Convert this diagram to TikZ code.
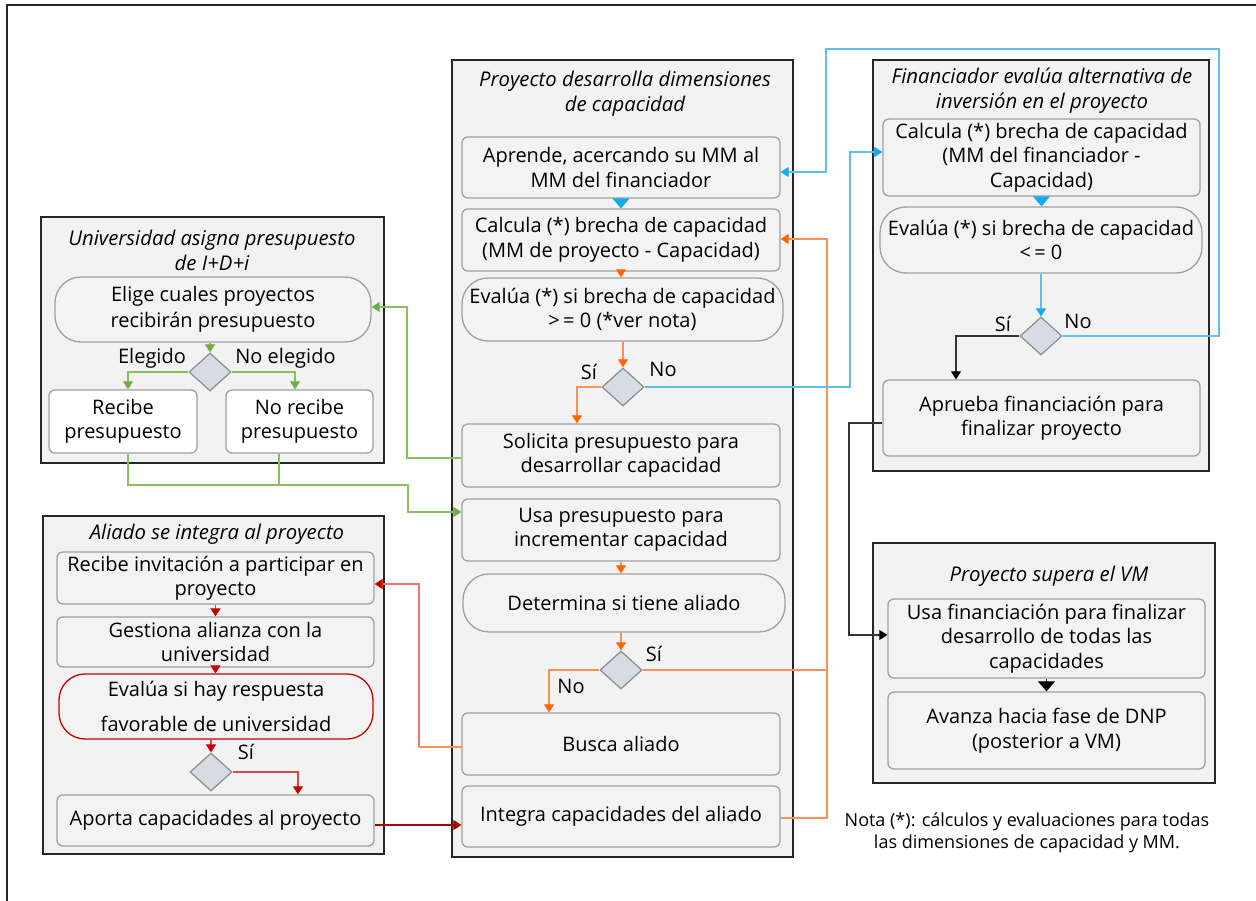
\documentclass[tikz,border=0pt]{standalone}
\usepackage{fontspec}
\setmainfont{Open Sans}
\usetikzlibrary{shapes.geometric,arrows.meta}

\definecolor{panelfill}{RGB}{242,242,242}
\definecolor{boxfill}{RGB}{243,243,243}
\definecolor{boxline}{RGB}{160,160,160}
\definecolor{decfill}{RGB}{214,220,228}
\definecolor{decline}{RGB}{140,140,140}
\definecolor{lineblue}{RGB}{95,190,240}
\definecolor{tipblue}{RGB}{20,170,235}
\definecolor{lineorange}{RGB}{247,145,85}
\definecolor{tiporange}{RGB}{255,102,0}
\definecolor{linegreen}{RGB}{135,192,95}
\definecolor{tipgreen}{RGB}{112,173,71}
\definecolor{linered}{RGB}{220,70,70}
\definecolor{tipred}{RGB}{200,0,0}
\definecolor{linepink}{RGB}{238,120,110}

\newcommand{\bodyfont}{\fontsize{20}{24.5}\selectfont}
\newcommand{\headfont}{\fontsize{20.3}{25}\selectfont\itshape}

\tikzset{
  panel/.style={draw=black!85, line width=1.4pt, fill=panelfill, inner sep=0pt},
  proc/.style={draw=boxline, line width=1.3pt, rounded corners=6pt, fill=boxfill,
    align=center, inner sep=0pt, font=\bodyfont},
  whiteproc/.style={proc, fill=white},
  term/.style={proc, rounded corners=26pt},
  dec/.style={diamond, draw=decline, line width=1.2pt, fill=decfill,
    minimum width=42pt, minimum height=38pt, inner sep=0pt},
  head/.style={font=\headfont, align=center, inner sep=0pt},
  lbl/.style={font=\bodyfont, inner sep=0pt},
  conn/.style={line width=1.1pt},
  smalltip/.style={-{Triangle[width=10pt,length=8pt,#1]}},
  bigtip/.style={-{Triangle[width=17pt,length=10pt,#1]}},
  blueln/.style={conn, draw=lineblue},
  orangeln/.style={conn, draw=lineorange},
  greenln/.style={conn, draw=linegreen},
  redln/.style={conn, draw=linered},
  blackln/.style={conn, draw=black!80},
}

\begin{document}
\begin{tikzpicture}[x=1pt,y=-1pt]
\useasboundingbox (0,0) rectangle (1256,901);
\fill[white] (0,0) rectangle (1256,901);

% outer frame (top and left edges)
\draw[line width=1.4pt, black!85] (7,901) -- (7,5) -- (1256,5);

% ---------- swimlane panels ----------
\node[panel, minimum width=343pt, minimum height=246pt] (pUni) at (212.5,340) {};
\node[panel, minimum width=341pt, minimum height=338pt] (pAli) at (213.5,685) {};
\node[panel, minimum width=341pt, minimum height=797pt] (pPro) at (622.5,458.5) {};
\node[panel, minimum width=336pt, minimum height=411pt] (pFin) at (1041,265.5) {};
\node[panel, minimum width=342pt, minimum height=240pt] (pVM)  at (1044,663) {};

\node[head] (hUni) at (212,250.5) {Universidad asigna presupuesto\\de I+D+i};
\node[head] (hAli) at (217,534) {Aliado se integra al proyecto};
\node[head] (hPro) at (625,93.5) {Proyecto desarrolla dimensiones\\de capacidad};
\node[head] (hFin) at (1042,90.5) {Financiador evalúa alternativa de\\inversión en el proyecto};
\node[head] (hVM)  at (1049,576) {Proyecto supera el VM};

% ---------- Universidad ----------
\node[term, minimum width=316pt, minimum height=65pt] (elige) at (213,309.5)
  {Elige cuales proyectos\\[1.5pt]recibirán presupuesto};
\node[dec] (dU) at (210,372) {};
\node[whiteproc, minimum width=148pt, minimum height=63pt] (recibe) at (123,421.5)
  {Recibe\\presupuesto};
\node[whiteproc, minimum width=147pt, minimum height=63pt] (norecibe) at (299.5,421.5)
  {No recibe\\presupuesto};
\node[lbl] (lElegido) at (152,358) {Elegido};
\node[lbl] (lNoElegido) at (285.5,358) {No elegido};

% ---------- Aliado ----------
\node[proc, minimum width=317pt, minimum height=52pt] (recinv) at (215.5,578)
  {Recibe invitación a participar en\\proyecto};
\node[proc, minimum width=317pt, minimum height=50pt] (gestiona) at (215.5,642)
  {Gestiona alianza con la\\universidad};
\node[term, draw=tipred, minimum width=314pt, minimum height=65pt] (evala) at (216,706.5)
  {Evalúa si hay respuesta\\[10.5pt]favorable de universidad};
\node[dec] (dA) at (211,772) {};
\node[lbl] (lSiA) at (246,752) {Sí};
\node[proc, minimum width=317pt, minimum height=51pt] (aporta) at (215.5,820.5)
  {Aporta capacidades al proyecto};

% ---------- Proyecto ----------
\node[proc, minimum width=318pt, minimum height=61pt] (aprende) at (621,167.5)
  {Aprende, acercando su MM al\\MM del financiador};
\node[proc, minimum width=318pt, minimum height=62pt] (calcp) at (621,240)
  {Calcula (*) brecha de capacidad\\(MM de proyecto - Capacidad)};
\node[term, minimum width=321pt, minimum height=63pt] (evalp) at (622.5,309.5)
  {Evalúa (*) si brecha de capacidad\\>\,= 0 (*ver nota)};
\node[dec] (dP1) at (623,387) {};
\node[lbl] (lSiP1) at (589,372) {Sí};
\node[lbl] (lNoP1) at (663,369) {No};
\node[proc, minimum width=318pt, minimum height=63pt] (solicita) at (621,455.5)
  {Solicita presupuesto para\\desarrollar capacidad};
\node[proc, minimum width=318pt, minimum height=62pt] (usap) at (621,530)
  {Usa presupuesto para\\incrementar capacidad};
\node[term, minimum width=322pt, minimum height=58pt] (determina) at (624,603)
  {Determina si tiene aliado};
\node[dec] (dP2) at (621,670) {};
\node[lbl] (lSiP2) at (654,654) {Sí};
\node[lbl] (lNoP2) at (571,686) {No};
\node[proc, minimum width=318pt, minimum height=62pt] (busca) at (621,744)
  {Busca aliado};
\node[proc, minimum width=318pt, minimum height=61pt] (integra) at (621,816.5)
  {Integra capacidades del aliado};

% ---------- Financiador ----------
\node[proc, minimum width=317pt, minimum height=77pt] (calcf) at (1041.5,157.5)
  {Calcula (*) brecha de capacidad\\(MM del financiador -\\Capacidad)};
\node[term, minimum width=322pt, minimum height=66pt] (evalf) at (1041,240)
  {Evalúa (*) si brecha de capacidad\\<\,= 0};
\node[dec] (dF) at (1041,336) {};
\node[lbl] (lSiF) at (1003,324) {Sí};
\node[lbl] (lNoF) at (1078,321) {No};
\node[proc, minimum width=317pt, minimum height=76pt] (aprueba) at (1041.5,418)
  {Aprueba financiación para\\finalizar proyecto};

% ---------- Proyecto supera el VM ----------
\node[proc, minimum width=317pt, minimum height=79pt] (usaf) at (1046.5,638.5)
  {Usa financiación para finalizar\\desarrollo de todas las\\capacidades};
\node[proc, minimum width=317pt, minimum height=77pt] (avanza) at (1046.5,730.5)
  {Avanza hacia fase de DNP\\(posterior a VM)};

\node[align=center, inner sep=0pt, font=\fontsize{18}{22}\selectfont] (nota) at (1027,833)
  {Nota (*): cálculos y evaluaciones para todas\\las dimensiones de capacidad y MM.};

% ---------- connectors: Universidad (green) ----------
\coordinate (gj) at (408,485);
\coordinate (gk) at (407,400);
\draw[greenln, smalltip=tipgreen] (elige.south -| dU.north) -- (dU.north);
\draw[greenln, smalltip=tipgreen] (dU.west) -| ([xshift=5pt]recibe.north);
\draw[greenln, smalltip=tipgreen] (dU.east) -| ([xshift=-4.5pt]norecibe.north);
\draw[greenln, smalltip=tipgreen] ([xshift=5pt]recibe.south) |- (gj) |- ([yshift=18pt]usap.west);
\draw[greenln] ([xshift=-20.5pt]norecibe.south) -- ([xshift=-20.5pt]norecibe.south |- gj);
\draw[greenln, smalltip=tipgreen] ([yshift=-2.5pt]solicita.west) -- ([yshift=-2.5pt]solicita.west -| gk) |- ([yshift=2.5pt]elige.east);

% ---------- connectors: Aliado (red) ----------
\coordinate (rk) at (419,700);
\draw[redln, smalltip=tipred] (recinv.south) -- (gestiona.north);
\draw[redln, smalltip=tipred] (gestiona.south) -- (gestiona.south |- evala.north);
\draw[redln, smalltip=tipred] (evala.south -| dA.north) -- (dA.north);
\draw[redln, smalltip=tipred] (dA.east) -| ([xshift=82.5pt]aporta.north);
\draw[conn, draw=tipred!85!black, smalltip=tipred!85!black] ([yshift=-4.5pt]aporta.east) -- ([yshift=-4.5pt]aporta.east -| integra.west);
\draw[orangeln] ([yshift=-3pt]busca.west) -- ([yshift=-3pt]busca.west -| rk) coordinate (rk2);
\draw[conn, draw=linepink, smalltip=tipred] (rk2) |- ([yshift=-6pt]recinv.east);

% ---------- connectors: Proyecto (orange) ----------
\coordinate (ok) at (827,500);
\draw[orangeln, smalltip=tiporange] (calcp.south) -- (evalp.north -| calcp.south);
\draw[orangeln, smalltip=tiporange] (evalp.south -| dP1.north) -- (dP1.north);
\draw[orangeln, smalltip=tiporange] (dP1.west) -| ([xshift=-44pt]solicita.north);
\draw[orangeln, smalltip=tiporange] (usap.south) -- (usap.south |- determina.north);
\draw[orangeln, smalltip=tiporange] (determina.south -| dP2.north) -- (dP2.north);
\draw[orangeln, smalltip=tiporange] (dP2.west) -| ([xshift=-72pt]busca.north);
\draw[orangeln] (dP2.east) -- (dP2.east -| ok);
\draw[orangeln, smalltip=tiporange] ([yshift=-1.5pt]integra.east) -| (ok) |- ([yshift=1pt]calcp.east);

% ---------- connectors: Financiador (blue) ----------
\coordinate (bk) at (850,300);
\coordinate (bt) at (1219,49);
\coordinate (bl) at (826,49);
\draw[blueln, bigtip=tipblue] (aprende.south) -- (calcp.north);
\draw[blueln, smalltip=tipblue] (dP1.east) -| (bk) |- ([yshift=5.5pt]calcf.west);
\draw[blueln, bigtip=tipblue] (calcf.south) -- (calcf.south |- evalf.north);
\draw[blueln, smalltip=tipblue] (evalf.south -| dF.north) -- (dF.north);
\draw[blueln, smalltip=tipblue] (dF.east) -| (bt) -- (bl) |- ([yshift=-4.5pt]aprende.east);

% ---------- connectors: financing (black) ----------
\coordinate (kk) at (849,500);
\draw[blackln, smalltip=black] (dF.west) -| ([xshift=-85.5pt]aprueba.north);
\draw[blackln, smalltip=black] ([yshift=-5pt]aprueba.west) -| (kk) |- ([yshift=3.5pt]usaf.west);
\draw[blackln, bigtip=black] (usaf.south) -- (avanza.north);
\end{tikzpicture}
\end{document}
